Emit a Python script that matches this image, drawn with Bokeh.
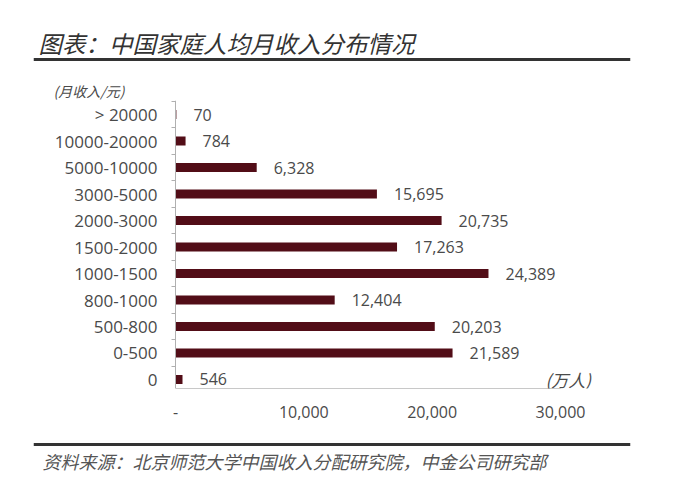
from bokeh.plotting import figure
from bokeh.layouts import column
from bokeh.models import ColumnDataSource, Range1d, FixedTicker, Label
from bokeh.core.properties import value
from bokeh.embed import file_html
from bokeh.resources import INLINE

# ---- data ----
categories = ["> 20000", "10000-20000", "5000-10000", "3000-5000", "2000-3000",
              "1500-2000", "1000-1500", "800-1000", "500-800", "0-500", "0"]
people = [70, 784, 6328, 15695, 20735, 17263, 24389, 12404, 20203, 21589, 546]
x_ticks = [0, 10000, 20000, 30000]
x_tick_labels = ["-", "10,000", "20,000", "30,000"]
title_text = "图表：中国家庭人均月收入分布情况"
y_unit_text = "(月收入/元)"
x_unit_text = "(万人)"
source_text = "资料来源：北京师范大学中国收入分配研究院，中金公司研究部"

W = 675
LEFT = 33          # left edge of rules / frames
RIGHT = 630        # right edge of rules / frames
ZERO = 175         # pixel of x = 0
PX = 0.012833      # pixels per unit
CJK = "Noto Sans CJK SC"
LAT = "Open Sans"
BAR = "#520d17"
GRAY = "#4a4a4a"

common = dict(output_backend="svg", toolbar_location=None, outline_line_color=None,
              min_border_left=LEFT, min_border_right=W - RIGHT)

# ---- header ----
hdr = figure(width=W, height=100, x_range=Range1d(LEFT, RIGHT), y_range=Range1d(100, 0),
             x_axis_location=None, y_axis_location=None,
             min_border_top=0, min_border_bottom=0, **common)
hdr.grid.visible = False
hdr.add_layout(Label(x=38, y=42, text=title_text, text_font=CJK, text_font_size="23.5px",
                     text_font_style="italic", text_color="#333333", text_baseline="middle"))
hdr.segment(x0=[LEFT], y0=[59], x1=[RIGHT], y1=[59], line_color="#333333", line_width=3)
hdr.add_layout(Label(x=53, y=90, text=y_unit_text, text_font=CJK, text_font_size="14px",
                     text_font_style="italic", text_color=GRAY, text_baseline="middle"))

# ---- main chart ----
n = len(categories)
ypos = list(range(n - 1, -1, -1))
src = ColumnDataSource(dict(y=ypos, v=people, lab=[f"{v:,}" for v in people]))

p = figure(width=W, height=330,
           x_range=Range1d(-(ZERO - LEFT) / PX, (RIGHT - ZERO) / PX),
           y_range=Range1d(-0.34, 10.53),
           min_border_top=0, min_border_bottom=42, **common)
p.grid.visible = False

p.hbar(y="y", left=0, right="v", height=0.34, source=src, fill_color=BAR, line_color=None)
p.text(x="v", y="y", text="lab", source=src, x_offset=17, text_baseline="middle",
       text_align="left", text_font=value(LAT), text_font_size="16px", text_color=GRAY)

# y axis, pinned at x = 0
p.yaxis.fixed_location = 0
p.yaxis.ticker = FixedTicker(ticks=ypos, minor_ticks=[i + 0.5 for i in range(-1, n)])
p.yaxis.major_label_overrides = {y: c for y, c in zip(ypos, categories)}
p.yaxis.major_tick_line_color = None
p.yaxis.major_tick_out = 0
p.yaxis.major_tick_in = 0
p.yaxis.minor_tick_in = 0
p.yaxis.minor_tick_out = 4
p.yaxis.minor_tick_line_color = "#b0b0b0"
p.yaxis.axis_line_color = "#b0b0b0"
p.yaxis.major_label_standoff = 14
p.yaxis.major_label_text_font = LAT
p.yaxis.major_label_text_font_size = "17px"
p.yaxis.major_label_text_color = GRAY

# x axis
p.xaxis.ticker = FixedTicker(ticks=x_ticks)
p.xaxis.major_label_overrides = {t: l for t, l in zip(x_ticks, x_tick_labels)}
p.xaxis.bounds = (0, 30000)
p.xaxis.major_tick_line_color = None
p.xaxis.major_tick_out = 0
p.xaxis.minor_tick_line_color = None
p.xaxis.axis_line_color = "#c8c8c8"
p.xaxis.major_label_standoff = 17
p.xaxis.major_label_text_font = LAT
p.xaxis.major_label_text_font_size = "16px"
p.xaxis.major_label_text_color = GRAY

p.add_layout(Label(x=28840, y=0, text=x_unit_text, text_font=CJK, text_font_size="17px",
                   text_font_style="italic", text_color=GRAY, text_baseline="middle"))

# ---- footer ----
ftr = figure(width=W, height=50, x_range=Range1d(LEFT, RIGHT), y_range=Range1d(50, 0),
             x_axis_location=None, y_axis_location=None,
             min_border_top=0, min_border_bottom=0, **common)
ftr.grid.visible = False
ftr.segment(x0=[LEFT], y0=[14], x1=[RIGHT], y1=[14], line_color="#333333", line_width=3)
ftr.add_layout(Label(x=42, y=30, text=source_text, text_font=CJK, text_font_size="18px",
                     text_font_style="italic", text_color="#555555", text_baseline="middle"))

layout = column(hdr, p, ftr, spacing=0)
open("out.html", "w").write(file_html(layout, INLINE))
